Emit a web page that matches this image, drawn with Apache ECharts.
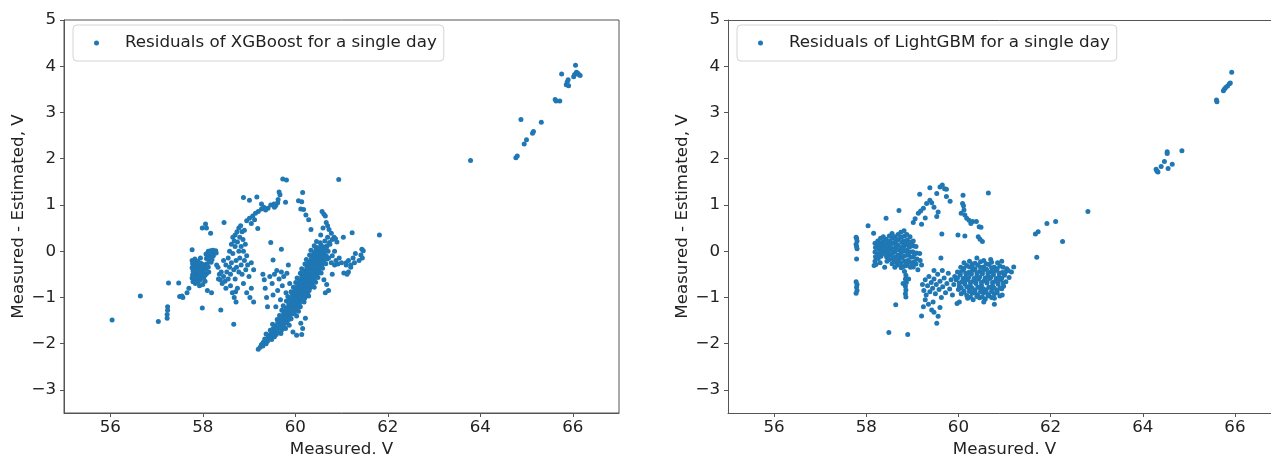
<!DOCTYPE html>
<html>
<head>
<meta charset="utf-8">
<title>Residuals</title>
<script src="https://cdn.jsdelivr.net/npm/echarts@6/dist/echarts.min.js"></script>
<style>
  html, body { margin: 0; padding: 0; background: #fff; }
  #chart { width: 1271px; height: 454px; }
</style>
</head>
<body>
<div id="chart"></div>
<script>
// tick labels
var xTicks = [56, 58, 60, 62, 64, 66];
var yTicks = [-3, -2, -1, 0, 1, 2, 3, 4, 5];

// ---- XGBoost residuals (Measured, Measured - Estimated) ----
var xgbTail = [
  [63.79,1.96],[64.77,2.02],[64.80,2.06],[64.88,2.85],[64.95,2.32],[65.00,2.41],[65.13,2.55],[65.15,2.59],
  [65.32,2.79],[65.62,3.28],[65.64,3.25],[65.72,3.25],[65.76,3.83],[65.86,3.60],[65.88,3.66],[65.90,3.71],
  [65.91,3.58],[66.02,3.77],[66.04,3.82],[66.06,4.02],[66.08,3.87],[66.11,3.85],[66.13,3.82],[66.16,3.80]
];
var xgbSparse = [
  [56.04,-1.49],[56.65,-0.97],[57.04,-1.52],[57.24,-1.20],[57.24,-1.28],[57.23,-1.37],[57.23,-1.45],
  [57.26,-0.69],[57.48,-0.69],[57.50,-0.98],[57.55,-0.97],[57.57,-1.00],[57.66,-0.90],[57.70,-0.80],
  [57.77,0.03],[57.99,-1.23],[57.99,0.50],[58.08,0.50],[58.06,0.59],[58.17,0.39],[58.46,0.62],
  [58.39,-1.27],[58.67,-1.58],[58.88,1.16],[59.01,1.10],[59.17,1.17],[59.19,0.49],[59.47,0.19],
  [59.70,0.04],[59.73,1.56],[59.81,1.54],[60.94,1.55],[61.82,0.35],[61.23,0.40],[61.04,0.30],
  [61.44,0.04],[61.47,0.01],[61.42,-0.08],[61.45,-0.15],[61.38,-0.20],[61.10,-0.25],[61.20,-0.30],[61.15,-0.45]
];
var xgbArc = [
  [58.95,0.66],[59.01,0.71],[59.08,0.76],[59.14,0.82],[59.20,0.86],[59.27,0.91],[59.32,0.95],[59.27,1.02],
  [59.41,0.93],[59.47,1.00],[59.54,1.02],[59.58,0.99],[59.62,1.05],[59.63,1.12],[59.67,1.22],[59.65,1.28],
  [59.79,1.06],[60.07,1.09],[60.12,0.91],[60.18,0.90],[60.16,1.27],[60.14,1.07],[60.23,0.78],[60.29,0.68],
  [60.34,0.47],[60.58,0.86],[60.62,0.80],[60.65,0.76],[60.67,0.62],[60.73,0.47],[60.78,0.39],[60.84,0.30],
  [60.87,0.27],[60.90,0.20],[60.70,0.55],[59.55,0.95],[59.36,0.89],[59.05,0.60],[59.12,0.68]
];
var xgbClusterA = [
  [57.77,-0.20],[57.78,-0.27],[57.77,-0.36],[57.79,-0.43],[57.78,-0.51],[57.77,-0.58],[57.79,-0.66],
  [57.83,-0.17],[57.84,-0.24],[57.83,-0.31],[57.85,-0.39],[57.84,-0.47],[57.83,-0.55],[57.85,-0.62],[57.84,-0.70],
  [57.89,-0.22],[57.90,-0.30],[57.91,-0.37],[57.89,-0.45],[57.90,-0.53],[57.91,-0.60],[57.90,-0.67],
  [57.95,-0.15],[57.96,-0.26],[57.95,-0.34],[57.97,-0.44],[57.96,-0.54],[57.95,-0.62],
  [58.01,-0.29],[58.02,-0.39],[58.03,-0.48],[58.02,-0.57],
  [58.07,-0.06],[58.08,-0.16],[58.09,-0.27],[58.07,-0.38],[58.08,-0.49],
  [58.12,0.00],[58.13,-0.08],[58.14,-0.19],[58.12,-0.34],[58.13,-0.45],
  [58.17,0.01],[58.18,-0.05],[58.19,-0.12],[58.18,-0.24],
  [58.22,0.02],[58.24,-0.02],[58.23,-0.10],[58.28,0.01],[58.29,-0.04],
  [58.10,-0.85],[58.19,-0.90],[58.00,-0.72],[58.34,-0.60],[58.30,-0.30],[57.93,-0.75],[58.05,-0.65],
  [57.80,-0.23],[57.81,-0.40],[57.80,-0.55],[57.86,-0.28],[57.87,-0.43],[57.86,-0.58],[57.92,-0.26],
  [57.93,-0.41],[57.92,-0.56],[57.98,-0.30],[57.99,-0.49],[58.04,-0.34],[58.05,-0.52],[58.10,-0.11],
  [58.10,-0.32],[58.15,-0.04],[58.16,-0.14],[58.20,-0.18]
];
var xgbClusterB = [
  [58.33,-0.35],[58.36,-0.50],[58.38,-0.62],[58.40,-0.45],[58.42,-0.70],[58.45,-0.55],[58.45,-0.20],
  [58.48,-0.65],[58.50,-0.30],[58.50,-0.80],[58.52,-0.45],[58.55,-0.60],[58.55,-0.15],[58.58,0.00],
  [58.58,-0.35],[58.60,-0.50],[58.60,-0.75],[58.62,0.15],[58.62,-0.25],[58.64,-0.90],[58.65,0.30],
  [58.65,-0.05],[58.67,-0.40],[58.68,-1.00],[58.70,0.35],[58.70,0.10],[58.70,-0.60],[58.72,-1.10],
  [58.72,-0.20],[58.74,0.42],[58.75,0.20],[58.75,-0.80],[58.78,0.50],[58.78,0.00],[58.78,-0.45],
  [58.80,0.30],[58.80,-0.15],[58.82,0.55],[58.83,0.10],[58.83,-0.30],[58.85,0.42],[58.85,-0.50],
  [58.87,0.25],[58.88,0.00],[58.90,0.45],[58.90,-0.20],[58.92,0.15],[58.93,-0.40],[58.95,-0.10],
  [58.97,-0.30],[59.00,-0.55],[59.05,-0.25],[59.10,-0.40],[58.88,-0.70],[58.95,-0.90],[59.02,-1.00],
  [59.10,-1.10],[59.05,-0.80],[58.71,-0.88],[58.73,-0.35],[58.68,0.22]
];
var xgbMiddle = [
  [59.30,-0.50],[59.33,-0.62],[59.35,-0.80],[59.38,-1.00],[59.40,-1.20],[59.45,-0.55],[59.50,-0.70],
  [59.52,-0.95],[59.55,-0.50],[59.58,-1.20],[59.60,-0.42],[59.62,-0.85],[59.65,-0.60],[59.68,-1.05],
  [59.70,-0.45],[59.72,-0.75],[59.75,-0.55],[59.80,-0.90],[59.82,-0.48],[59.85,-0.30],[59.88,-0.70],
  [59.52,-0.19]
];
var xgbBand = [
  [59.20,-2.12],[59.24,-2.08],[59.27,-2.02],[59.31,-1.97],[59.37,-2.00],
  [59.34,-1.90],[59.41,-1.88],[59.49,-1.91],
  [59.37,-1.79],[59.44,-1.82],[59.51,-1.77],[59.59,-1.80],[59.69,-1.78],
  [59.46,-1.71],[59.52,-1.68],[59.57,-1.73],[59.64,-1.66],[59.71,-1.70],[59.79,-1.67],
  [59.51,-1.58],[59.57,-1.62],[59.66,-1.57],[59.73,-1.61],[59.81,-1.55],[59.87,-1.60],
  [59.61,-1.48],[59.67,-1.52],[59.76,-1.47],[59.83,-1.51],[59.91,-1.46],
  [59.66,-1.39],[59.73,-1.42],[59.79,-1.37],[59.87,-1.41],[59.94,-1.36],[60.03,-1.40],
  [59.71,-1.28],[59.77,-1.32],[59.86,-1.27],[59.93,-1.31],[60.01,-1.26],[60.07,-1.30],
  [59.74,-1.18],[59.83,-1.22],[59.89,-1.17],[59.97,-1.21],[60.06,-1.16],[60.11,-1.20],
  [59.81,-1.08],[59.91,-1.12],[59.97,-1.07],[60.04,-1.11],[60.13,-1.06],[60.19,-1.10],
  [59.84,-0.98],[59.93,-1.02],[60.01,-0.97],[60.07,-1.01],[60.16,-0.96],[60.21,-1.00],[60.29,-0.97],
  [59.91,-0.88],[59.97,-0.92],[60.06,-0.87],[60.13,-0.91],[60.19,-0.86],[60.27,-0.90],
  [59.96,-0.78],[60.03,-0.82],[60.09,-0.77],[60.17,-0.81],[60.26,-0.76],[60.31,-0.80],[60.41,-0.78],
  [60.01,-0.68],[60.07,-0.72],[60.16,-0.67],[60.21,-0.71],[60.29,-0.66],[60.37,-0.70],[60.44,-0.67],
  [60.04,-0.58],[60.13,-0.62],[60.19,-0.57],[60.27,-0.61],[60.36,-0.56],[60.41,-0.60],[60.49,-0.57],
  [60.11,-0.48],[60.17,-0.52],[60.26,-0.47],[60.33,-0.51],[60.39,-0.46],[60.47,-0.50],[60.56,-0.47],
  [60.14,-0.38],[60.23,-0.42],[60.29,-0.37],[60.37,-0.41],[60.46,-0.36],[60.51,-0.40],[60.59,-0.37],
  [60.21,-0.28],[60.27,-0.32],[60.34,-0.27],[60.43,-0.31],[60.49,-0.26],[60.57,-0.30],[60.66,-0.27],
  [60.24,-0.18],[60.33,-0.22],[60.39,-0.17],[60.47,-0.21],[60.56,-0.16],[60.61,-0.20],[60.69,-0.17],
  [60.31,-0.08],[60.37,-0.12],[60.44,-0.07],[60.53,-0.11],[60.59,-0.06],[60.67,-0.10],
  [60.34,0.02],[60.43,-0.02],[60.49,0.03],[60.57,-0.01],[60.66,0.04],[60.71,0.00],
  [60.41,0.12],[60.47,0.08],[60.56,0.13],[60.63,0.09],[60.69,0.12],
  [60.46,0.21],[60.54,0.18],[60.64,0.22],[60.74,0.19],
  [60.12,-1.56],[60.16,-1.67],[60.14,-1.80],[60.03,-1.82],[59.95,-1.75],[60.22,-1.45]
];
var xgbBandFill = [
  [59.30,-2.05],[59.40,-1.95],[59.47,-1.85],[59.55,-1.85],[59.48,-1.75],[59.62,-1.75],[59.55,-1.65],
  [59.68,-1.63],[59.76,-1.64],[59.62,-1.55],[59.70,-1.55],[59.78,-1.53],[59.69,-1.45],[59.80,-1.44],
  [59.87,-1.47],[59.75,-1.35],[59.83,-1.33],[59.91,-1.35],[59.98,-1.33],[59.80,-1.24],[59.90,-1.25],
  [59.96,-1.24],[60.03,-1.22],[59.86,-1.14],[59.94,-1.15],[60.01,-1.14],[60.09,-1.13],[59.88,-1.04],
  [59.96,-1.05],[60.04,-1.04],[60.12,-1.03],[60.19,-1.04],[59.94,-0.95],[60.02,-0.94],[60.10,-0.95],
  [60.17,-0.93],[60.24,-0.94],[59.99,-0.85],[60.07,-0.84],[60.14,-0.85],[60.22,-0.83],[60.30,-0.85],
  [60.05,-0.75],[60.12,-0.74],[60.20,-0.75],[60.28,-0.73],[60.35,-0.75],[60.09,-0.65],[60.17,-0.64],
  [60.25,-0.65],[60.33,-0.63],[60.40,-0.64],[60.14,-0.55],[60.22,-0.54],[60.30,-0.55],[60.38,-0.53],
  [60.45,-0.54],[60.18,-0.45],[60.26,-0.44],[60.34,-0.45],[60.42,-0.43],[60.50,-0.44],[60.25,-0.35],
  [60.33,-0.34],[60.41,-0.35],[60.49,-0.33],[60.55,-0.34],[60.29,-0.25],[60.38,-0.24],[60.45,-0.25],
  [60.53,-0.23],[60.61,-0.24],[60.35,-0.15],[60.42,-0.14],[60.50,-0.15],[60.58,-0.13],[60.64,-0.14],
  [60.40,-0.05],[60.48,-0.04],[60.55,-0.05],[60.62,-0.03],[60.45,0.06],[60.53,0.07],[60.60,0.05],[60.67,0.07]
];
var xgbRight = [
  [60.72,-0.15],[60.78,-0.25],[60.80,-0.10],[60.85,-0.30],[60.88,-0.20],[60.92,-0.28],[60.95,-0.15],
  [61.00,-0.25],[61.05,-0.47],[61.10,-0.30],[61.12,-0.50],[61.15,-0.20],[61.20,-0.35],[61.25,-0.15],
  [61.30,-0.05],[61.28,-0.25],[60.62,-0.62],[60.68,-0.72],[60.72,-0.85],[60.65,-0.90],[60.80,-0.50],
  [60.75,0.15],[60.80,0.25],[60.70,0.30],[60.60,0.50],[60.85,0.00],[60.55,0.35]
];

// ---- LightGBM residuals ----
var lgbTail = [
  [65.60,3.27],[65.61,3.23],[65.75,3.47],[65.77,3.50],[65.80,3.54],[65.84,3.57],[65.88,3.62],[65.90,3.64],
  [65.93,3.87],[64.29,1.77],[64.31,1.73],[64.33,1.71],[64.40,1.83],[64.47,1.94],[64.53,2.15],[64.53,2.11],
  [64.55,1.79],[64.64,1.88],[64.85,2.17]
];
var lgbSparse = [
  [62.81,0.86],[62.11,0.64],[61.92,0.60],[61.73,0.42],[61.67,0.37],[62.26,0.21],[61.70,-0.13],
  [57.78,0.30],[57.79,0.28],[57.80,0.22],[57.78,0.15],[57.79,0.10],[57.80,0.05],[57.79,-0.17],
  [57.78,-0.66],[57.80,-0.72],[57.79,-0.78],[57.80,-0.85],[57.78,-0.91],
  [58.04,0.55],[58.16,0.39],[58.43,0.71],[58.71,0.88],[58.64,-1.16],[58.49,-1.76],[58.90,-1.80],[60.65,1.26],
  [59.64,0.37],[59.62,-0.15],[59.99,0.35],[60.14,0.33]
];
var lgbArc = [
  [59.13,0.82],[59.18,0.87],[59.24,0.93],[59.31,1.03],[59.38,1.10],[59.42,1.05],[59.53,1.25],[59.60,1.39],
  [59.65,1.43],[59.70,1.35],[59.74,1.34],[59.74,1.18],[59.82,1.08],[59.56,0.85],[59.53,0.75],[59.47,0.95],
  [59.16,1.23],[59.38,1.37],[59.06,0.70],[59.02,0.62],[59.20,0.58],[59.28,0.72],
  [60.10,1.21],[60.09,1.03],[60.11,0.98],[60.12,0.89],[60.14,0.78],[60.18,0.71],[60.23,0.67],[60.31,0.64],
  [60.39,0.64],[60.45,0.53],[60.49,0.52],[60.43,0.31],[60.47,0.26],[60.52,0.21],[60.06,0.82],[60.27,0.60]
];
var lgbClusterA = [
  [58.19,0.17],[58.20,0.08],[58.19,-0.02],[58.20,-0.12],[58.19,-0.22],[58.21,-0.29],[58.17,-0.31],
  [58.25,0.22],[58.26,0.12],[58.27,0.04],[58.25,-0.06],[58.26,-0.16],
  [58.31,0.28],[58.32,0.18],[58.33,0.09],[58.31,-0.01],[58.32,-0.11],
  [58.37,0.31],[58.38,0.21],[58.37,0.13],[58.39,0.04],[58.38,-0.05],
  [58.43,0.26],[58.44,0.17],[58.45,0.08],[58.43,-0.01],[58.44,-0.12],[58.45,-0.22],
  [58.50,0.33],[58.51,0.22],[58.49,0.12],[58.50,0.02],[58.52,-0.09],[58.50,-0.18],
  [58.56,0.38],[58.57,0.28],[58.58,0.17],[58.56,0.06],[58.57,-0.05],[58.58,-0.16],[58.56,-0.27],
  [58.62,0.31],[58.63,0.20],[58.64,0.09],[58.62,-0.02],[58.63,-0.13],[58.64,-0.24],[58.62,-0.35],
  [58.69,0.36],[58.70,0.25],[58.68,0.14],[58.70,0.03],[58.69,-0.08],[58.70,-0.19],[58.68,-0.30],
  [58.75,0.41],[58.76,0.30],[58.77,0.19],[58.75,0.08],[58.76,-0.03],[58.77,-0.14],[58.75,-0.25],[58.76,-0.36],
  [58.82,0.44],[58.83,0.33],[58.81,0.22],[58.82,0.11],[58.84,0.00],[58.82,-0.11],[58.83,-0.22],[58.81,-0.33],[58.83,-0.44],
  [58.88,0.36],[58.89,0.24],[58.90,0.13],[58.88,0.02],[58.89,-0.09],[58.90,-0.20],[58.88,-0.31],
  [58.95,0.31],[58.96,0.20],[58.94,0.09],[58.95,-0.02],[58.97,-0.13],[58.95,-0.24],[58.96,-0.35],
  [59.02,0.22],[59.03,0.11],[59.01,-0.01],[59.02,-0.12],[59.04,-0.23],[59.02,-0.34],
  [59.08,0.10],[59.09,-0.04],[59.10,-0.17],[59.08,-0.28],[59.12,-0.40],
  [59.16,-0.05],[59.17,-0.20],[59.20,-0.30],[58.40,-0.35],[58.30,-0.25],
  [58.86,-0.52],[58.85,-0.60],[58.87,-0.68],[58.85,-0.76],[58.86,-0.84],[58.85,-0.92],[58.86,-0.99],
  [58.80,-0.70],[58.92,-0.60],
  [58.28,0.15],[58.35,0.05],[58.41,0.20],[58.47,-0.05],[58.53,0.15],[58.60,0.02],[58.66,0.24],
  [58.72,-0.10],[58.79,0.05],[58.86,0.18],[58.92,-0.05],[58.99,0.15],[59.05,-0.06],[58.60,-0.20],
  [58.73,-0.28],[58.86,-0.25],[58.99,-0.28]
];
var lgbMiddle = [
  [59.22,-0.72],[59.25,-0.85],[59.28,-0.62],[59.30,-0.95],[59.33,-0.75],[59.36,-0.55],[59.38,-0.88],
  [59.41,-0.68],[59.44,-0.80],[59.47,-0.60],[59.50,-0.92],[59.52,-0.72],[59.55,-0.50],[59.58,-0.83],
  [59.60,-0.65],[59.63,-1.00],[59.66,-0.77],[59.69,-0.58],[59.72,-0.90],[59.75,-0.70],[59.78,-0.48],
  [59.81,-0.82],[59.84,-0.62],[59.87,-0.95],[59.47,-0.42],[59.65,-0.42],[59.28,-1.05],
  [59.24,-1.20],[59.20,-1.40],[59.42,-1.27],[59.47,-1.32],[59.53,-1.56],[59.56,-1.41],[59.60,-1.22],
  [59.45,-1.10],[59.35,-1.15]
];
var lgbClusterC = [
  [60.40,-0.15],[60.55,-0.20],[60.70,-0.18],[60.85,-0.25],[60.30,-0.28],
  [60.05,-0.35],[60.18,-0.31],[60.30,-0.36],[60.42,-0.30],[60.55,-0.34],[60.66,-0.29],[60.78,-0.35],[60.90,-0.32],[61.05,-0.38],[61.20,-0.34],
  [59.98,-0.45],[60.10,-0.41],[60.22,-0.46],[60.34,-0.40],[60.46,-0.44],[60.58,-0.39],[60.70,-0.45],[60.82,-0.41],[60.95,-0.46],[61.08,-0.42],
  [59.92,-0.55],[60.04,-0.51],[60.16,-0.56],[60.28,-0.50],[60.40,-0.54],[60.52,-0.49],[60.64,-0.55],[60.76,-0.51],[60.88,-0.56],[61.00,-0.52],[61.10,-0.57],
  [59.95,-0.62],[60.08,-0.66],[60.20,-0.61],[60.32,-0.65],[60.44,-0.60],[60.56,-0.64],[60.68,-0.59],[60.80,-0.65],[60.92,-0.61],[61.03,-0.66],
  [59.90,-0.72],[60.02,-0.76],[60.14,-0.71],[60.26,-0.75],[60.38,-0.70],[60.50,-0.74],[60.62,-0.69],[60.74,-0.75],[60.86,-0.71],[60.98,-0.76],
  [60.00,-0.83],[60.12,-0.86],[60.24,-0.81],[60.36,-0.85],[60.48,-0.80],[60.60,-0.84],[60.72,-0.79],[60.84,-0.85],[60.94,-0.81],
  [60.06,-0.92],[60.18,-0.96],[60.30,-0.91],[60.42,-0.95],[60.54,-0.90],[60.66,-0.94],[60.78,-0.92],[60.90,-0.97],
  [60.20,-1.02],[60.32,-1.05],[60.46,-1.01],[60.58,-1.04],[60.72,-1.00],
  [59.97,-1.13],[60.02,-1.10],[60.55,-1.10],[60.78,-1.15],[60.95,-0.95],[61.15,-0.45]
];
var lgbCoreFill = [
  [60.12,-0.25],[60.24,-0.22],[60.36,-0.26],[60.48,-0.23],[60.60,-0.27],[60.72,-0.24],[60.94,-0.22],
  [60.12,-0.37],[60.24,-0.34],[60.36,-0.38],[60.48,-0.35],[60.61,-0.39],[60.72,-0.36],[60.84,-0.38],[60.97,-0.35],
  [60.04,-0.46],[60.16,-0.48],[60.28,-0.45],[60.40,-0.47],[60.52,-0.44],[60.64,-0.48],[60.76,-0.45],[60.88,-0.47],[61.02,-0.45],
  [59.98,-0.58],[60.10,-0.59],[60.22,-0.57],[60.34,-0.59],[60.46,-0.56],[60.58,-0.58],[60.70,-0.57],[60.82,-0.59],[60.94,-0.58],
  [60.02,-0.69],[60.14,-0.66],[60.26,-0.68],[60.38,-0.65],[60.50,-0.68],[60.62,-0.66],[60.74,-0.68],[60.86,-0.65],[60.97,-0.69],
  [60.06,-0.79],[60.18,-0.77],[60.30,-0.80],[60.42,-0.78],[60.54,-0.81],[60.66,-0.78],[60.78,-0.80],[60.90,-0.79],
  [60.12,-0.89],[60.24,-0.87],[60.36,-0.90],[60.48,-0.88],[60.60,-0.89],[60.72,-0.87],[60.84,-0.90],
  [60.26,-0.99],[60.40,-0.98],[60.52,-0.99],[60.64,-0.97],[60.78,-1.02]
];

var xgbData = [].concat(xgbTail, xgbSparse, xgbArc, xgbClusterA, xgbClusterB, xgbMiddle, xgbBand, xgbBandFill, xgbRight);
var lgbData = [].concat(lgbTail, lgbSparse, lgbArc, lgbClusterA, lgbMiddle, lgbClusterC, lgbCoreFill);

var font = 'DejaVu Sans';
var fs = 16.7;
var axisColor = '#555';
var textColor = '#222';
var dotColor = '#1f77b4';
var xgbName = 'Residuals of XGBoost for a single day';
var lgbName = 'Residuals of LightGBM for a single day';

function makeX(idx) {
  return {
    type: 'value', gridIndex: idx, min: 55, max: 67,
    name: 'Measured, V', nameLocation: 'middle', nameGap: 27,
    nameTextStyle: { fontFamily: font, fontSize: fs, color: textColor },
    axisLine: { show: true, onZero: false, lineStyle: { color: axisColor, width: 1 } },
    axisTick: { show: true, length: 4, customValues: xTicks, lineStyle: { color: axisColor } },
    axisLabel: { customValues: xTicks, margin: 6, fontFamily: font, fontSize: fs, color: textColor },
    splitLine: { show: false }
  };
}
// bare line along the top of a plot (frame only)
function makeTopLine(idx) {
  return {
    type: 'value', gridIndex: idx, position: 'top', min: 55, max: 67,
    axisLine: { show: true, onZero: false, lineStyle: { color: axisColor, width: 1 } },
    axisTick: { show: false }, axisLabel: { show: false }, splitLine: { show: false }
  };
}
function makeY(idx) {
  return {
    type: 'value', gridIndex: idx, min: -3.5, max: 5,
    name: 'Measured - Estimated, V', nameLocation: 'middle', nameGap: 36, nameRotate: 90,
    nameTextStyle: { fontFamily: font, fontSize: fs, color: textColor },
    axisLine: { show: true, onZero: false, lineStyle: { color: axisColor, width: 1 } },
    axisTick: { show: true, length: 4, customValues: yTicks, lineStyle: { color: axisColor } },
    axisLabel: {
      customValues: yTicks, margin: 8, fontFamily: font, fontSize: fs, color: textColor,
      formatter: function (v) { return String(v).replace('-', '\u2212'); }
    },
    splitLine: { show: false }
  };
}
function makeLegend(name, left) {
  return {
    data: [name], left: left, top: 25, orient: 'horizontal',
    icon: 'circle', itemWidth: 5, itemHeight: 5,
    padding: [8, 7, 8, 21],
    borderColor: '#d4d4d4', borderWidth: 1, borderRadius: 4, backgroundColor: '#fff',
    selectedMode: false,
    textStyle: { fontFamily: font, fontSize: fs, color: textColor, lineHeight: 20, padding: [0, 0, 0, 21] }
  };
}

var chart = echarts.init(document.getElementById('chart'));
chart.setOption({
  animation: false,
  backgroundColor: '#fff',
  grid: [
    { left: 64, top: 20, width: 555, height: 393, outerBoundsMode: 'none', containLabel: false,
      show: true, borderColor: axisColor, borderWidth: 1, backgroundColor: 'transparent' },
    // right panel is cut off by the picture edge, so no right frame line
    { left: 728, top: 20, width: 553, height: 393, outerBoundsMode: 'none', containLabel: false,
      show: false }
  ],
  xAxis: [makeX(0), makeX(1), makeTopLine(1)],
  yAxis: [makeY(0), makeY(1)],
  legend: [makeLegend(xgbName, 73), makeLegend(lgbName, 737)],
  series: [
    { name: xgbName, type: 'scatter', xAxisIndex: 0, yAxisIndex: 0, symbolSize: 5,
      itemStyle: { color: dotColor, opacity: 1 }, data: xgbData },
    { name: lgbName, type: 'scatter', xAxisIndex: 1, yAxisIndex: 1, symbolSize: 5,
      itemStyle: { color: dotColor, opacity: 1 }, data: lgbData }
  ]
});
</script>
</body>
</html>
